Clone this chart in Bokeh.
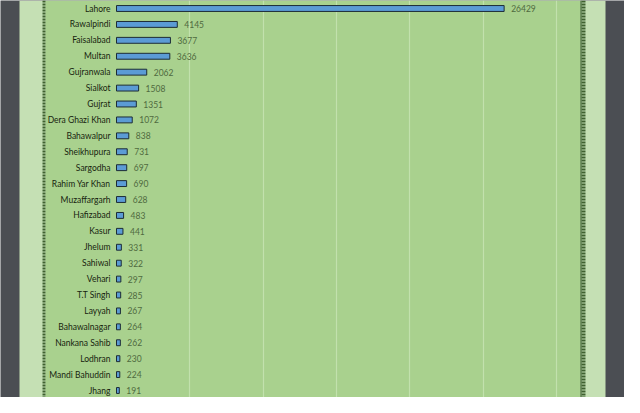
from bokeh.plotting import figure
from bokeh.models import ColumnDataSource, Range1d, BoxAnnotation, Span, FixedTicker
from bokeh.core.properties import value
from bokeh.embed import file_html
from bokeh.resources import INLINE

cities = ["Lahore", "Rawalpindi", "Faisalabad", "Multan", "Gujranwala", "Sialkot", "Gujrat",
          "Dera Ghazi Khan", "Bahawalpur", "Sheikhupura", "Sargodha", "Rahim Yar Khan",
          "Muzaffargarh", "Hafizabad", "Kasur", "Jhelum", "Sahiwal", "Vehari", "T.T Singh",
          "Layyah", "Bahawalnagar", "Nankana Sahib", "Lodhran", "Mandi Bahuddin", "Jhang"]
counts = [26429, 4145, 3677, 3636, 2062, 1508, 1351, 1072, 838, 731, 697, 690, 628, 483, 441,
          331, 322, 297, 285, 267, 264, 262, 230, 224, 191]
grid_ticks = [5000, 10000, 15000, 20000, 25000, 30000]

W, H = 624, 397
src = ColumnDataSource(dict(y=list(range(len(cities))), city=cities, v=counts,
                            lab=[str(c) for c in counts]))

# x: 0 -> px 116, 30000 -> px 556
ppu = 440 / 30000
x0 = -116 / ppu
x1 = (W - 116) / ppu
# y: row 0 -> px 8 from top, row 24 -> px 390
ppr = 382 / 24
y_top = -8 / ppr
y_bot = 24 + (H - 390) / ppr

p = figure(width=W, height=H, output_backend="svg", toolbar_location=None,
           x_range=Range1d(x0, x1), y_range=Range1d(y_bot, y_top),
           x_axis_location=None, y_axis_location=None, min_border=0)
p.outline_line_color = None
p.background_fill_color = "#4b4e53"
p.border_fill_color = "#4b4e53"

p.add_layout(BoxAnnotation(left=19, right=605, left_units="screen", right_units="screen",
                           fill_color="#c5e0b4", fill_alpha=1, line_alpha=0, level="image"))
p.add_layout(BoxAnnotation(left=45, right=580, left_units="screen", right_units="screen",
                           fill_color="#a9d18e", fill_alpha=1, line_alpha=0, level="image"))
p.add_layout(Span(location=43.5, location_units="screen", dimension="height",
                  line_color="#3f6130", line_width=3, line_dash="2 1"))
p.add_layout(Span(location=580.5, location_units="screen", dimension="height",
                  line_color="#2f4f22", line_width=1))
p.add_layout(Span(location=583, location_units="screen", dimension="height",
                  line_color="#3f6130", line_width=4, line_dash="2 1"))

p.xgrid.ticker = FixedTicker(ticks=grid_ticks)
p.xgrid.grid_line_color = "#c2e1ad"
p.xgrid.grid_line_width = 1.2
p.xgrid.level = "underlay"
p.ygrid.grid_line_color = None

p.hbar(y="y", left=0, right="v", height=0.37, source=src,
       fill_color="#5b9bd5", line_color="#1c2b36", line_width=1)
p.text(x=0, y="y", text="city", source=src, x_offset=-6, text_align="right",
       text_baseline="middle", text_font=value("Lato"), text_font_size="8.5px",
       text_color="#17240f")
p.text(x="v", y="y", text="lab", source=src, x_offset=7, text_align="left",
       text_baseline="middle", text_font=value("Lato"), text_font_size="8.5px",
       text_color="#4f6a3e")

open("out.html", "w").write(file_html(p, INLINE))
